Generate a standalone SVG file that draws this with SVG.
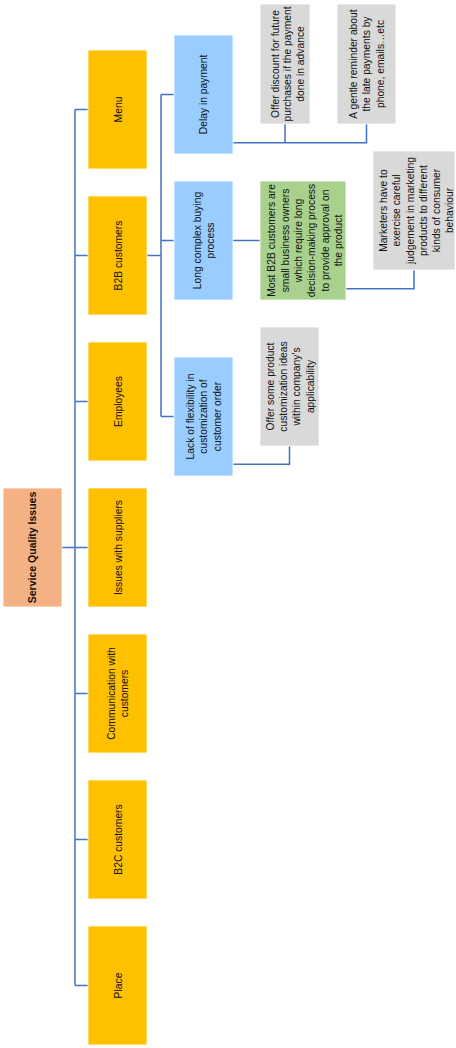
<svg xmlns="http://www.w3.org/2000/svg" width="456" height="1048" viewBox="0 0 456 1048">
<style>
rect{stroke:#ffffff;stroke-width:0.8}
.o{fill:#FFC000}.b{fill:#99CCFF}.g{fill:#D9D9D9}.gr{fill:#A9D18E}.r{fill:#F4B183}
text{font-family:"Liberation Sans",Arial,sans-serif;font-size:10.3px;fill:#111;text-anchor:middle}
.bold{font-weight:bold;font-size:10.5px}
.c path{fill:none;stroke:#4472C4;stroke-width:1.5}
</style>
<rect width="456" height="1048" fill="#fff" stroke="none"/>
<g class="c" id="connectors">
<path d="M75 109.5 V985.5"/>
<path d="M62 547.5 H88"/>
<path d="M75 109.5 H88 M75 255.5 H88 M75 401.5 H88 M75 693.5 H88 M75 839.5 H88 M75 985.5 H88"/>
<path d="M147 255.5 H161"/>
<path d="M161 94.5 V416.5 M161 94.5 H174 M161 240.5 H174 M161 416.5 H174"/>
<path d="M233 142.7 H366.5 V124 M285 142.7 V124"/>
<path d="M233 240.5 H260"/>
<path d="M346 288.7 H414 V270"/>
<path d="M233 464.3 H289.5 V446"/>
</g>
<g id="root"><rect class="r" x="3" y="488" width="59" height="119"/>
<text class="bold" transform="translate(32.5 547.5) rotate(-90)" y="3.7">Service Quality Issues</text></g>
<g id="menu"><rect class="o" x="88" y="50" width="59" height="119"/>
<text transform="translate(118 109.5) rotate(-90)" y="3.6">Menu</text></g>
<g id="b2b"><rect class="o" x="88" y="196" width="59" height="119"/>
<text transform="translate(118 255.5) rotate(-90)" y="3.6">B2B customers</text></g>
<g id="employees"><rect class="o" x="88" y="342" width="59" height="119"/>
<text transform="translate(118 401.5) rotate(-90)" y="3.6">Employees</text></g>
<g id="suppliers"><rect class="o" x="88" y="488" width="59" height="119"/>
<text transform="translate(118 547.5) rotate(-90)" y="3.6">Issues with suppliers</text></g>
<g id="communication"><rect class="o" x="88" y="634" width="59" height="119"/>
<text transform="translate(118 693.5) rotate(-90)"><tspan x="0" y="-3">Communication with</tspan><tspan x="0" y="10.3">customers</tspan></text></g>
<g id="b2c"><rect class="o" x="88" y="780" width="59" height="119"/>
<text transform="translate(118 839.5) rotate(-90)" y="3.6">B2C customers</text></g>
<g id="place"><rect class="o" x="88" y="926" width="59" height="119"/>
<text transform="translate(118 985.5) rotate(-90)" y="3.6">Place</text></g>
<g id="delay"><rect class="b" x="174" y="35" width="59" height="119"/>
<text transform="translate(203.5 94.5) rotate(-90)" y="3.6">Delay in payment</text></g>
<g id="long"><rect class="b" x="174" y="181" width="59" height="119"/>
<text transform="translate(203.5 240.5) rotate(-90)"><tspan x="0" y="-2.6">Long complex buying</tspan><tspan x="0" y="10.2">process</tspan></text></g>
<g id="lack"><rect class="b" x="174" y="357" width="59" height="119"/>
<text transform="translate(203.5 416.5) rotate(-90)"><tspan x="0" y="-9.6">Lack of flexibility in</tspan><tspan x="0" y="3.7">customization of</tspan><tspan x="0" y="17">customer order</tspan></text></g>
<g id="discount"><rect class="g" x="260" y="4" width="50" height="120"/>
<text transform="translate(285 64) rotate(-90)"><tspan x="0" y="-6.4">Offer discount for future</tspan><tspan x="0" y="6.3">purchases if the payment</tspan><tspan x="0" y="19.3">done in advance</tspan></text></g>
<g id="reminder"><rect class="g" x="337" y="4" width="59" height="120"/>
<text transform="translate(366.5 64) rotate(-90)"><tspan x="0" y="-9.9">A gentle reminder about</tspan><tspan x="0" y="3.8">the late payments by</tspan><tspan x="0" y="17.1">phone, emails…etc</tspan></text></g>
<g id="b2bowners"><rect class="gr" x="260" y="181" width="86" height="119"/>
<text transform="translate(303 240.5) rotate(-90)"><tspan x="0" y="-27.7">Most B2B customers are</tspan><tspan x="0" y="-14.4">small business owners</tspan><tspan x="0" y="-1.4">which require long</tspan><tspan x="0" y="12.3">decision-making process</tspan><tspan x="0" y="25.6">to provide approval on</tspan><tspan x="0" y="38.9">the product</tspan></text></g>
<g id="marketers"><rect class="g" x="373" y="151" width="82" height="119"/>
<text transform="translate(414 210.5) rotate(-90)"><tspan x="0" y="-27.4">Marketers have to</tspan><tspan x="0" y="-13.7">exercise careful</tspan><tspan x="0" y="-0.4">judgement in marketing</tspan><tspan x="0" y="12.6">products to different</tspan><tspan x="0" y="26.3">kinds of consumer</tspan><tspan x="0" y="38.9">behaviour</tspan></text></g>
<g id="customization"><rect class="g" x="260" y="327" width="59" height="119"/>
<text transform="translate(289.5 386.5) rotate(-90)"><tspan x="0" y="-15.9">Offer some product</tspan><tspan x="0" y="-2.6">customization ideas</tspan><tspan x="0" y="10.8">within company’s</tspan><tspan x="0" y="24.1">applicability</tspan></text></g>
</svg>
